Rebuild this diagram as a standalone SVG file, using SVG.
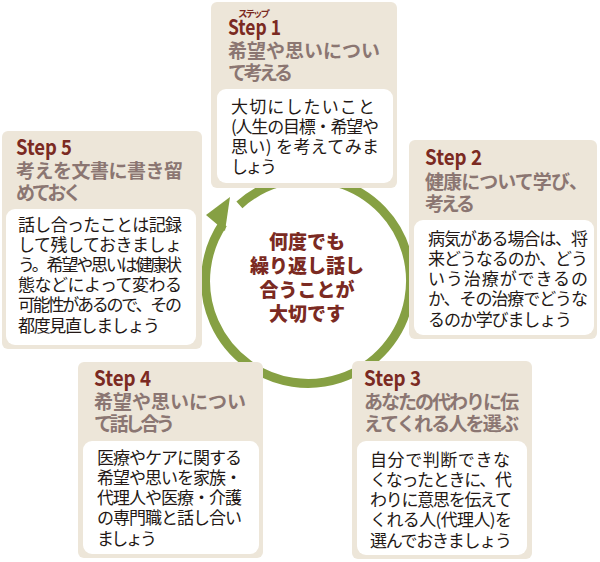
<svg xmlns="http://www.w3.org/2000/svg" width="600" height="562" viewBox="0 0 600 562">
<style>
.card{fill:#ede6d9}
.inner{fill:#ffffff}
.hd{font-family:"Noto Sans CJK JP","Noto Sans",sans-serif}
.step{font-weight:700;fill:#7b2a22;font-size:21px}
.ruby{font-weight:700;fill:#7b2a22;font-size:9.5px}
.title{font-weight:700;fill:#8b7672;font-size:19px}
.body{font-family:"Noto Sans CJK JP",sans-serif;font-weight:400;fill:#231815;font-size:17px}
.center{font-family:"Noto Sans CJK JP",sans-serif;font-weight:900;fill:#7b2a22;font-size:19px;text-anchor:middle}
.ring{fill:none;stroke:#86a043;stroke-width:9}
</style>
<rect width="600" height="562" fill="#ffffff"/>
<g id="connectors">
<path class="ring" d="M239.4,204.8 A102.5,102.5 0 1 1 223.0,223.7"/>
<polygon points="230,197 206,215 225,231" fill="#86a043"/>
</g>
<g id="center">
<text class="center"><tspan x="307" y="249">何度でも</tspan><tspan x="307" y="273">繰り返し話し</tspan><tspan x="307" y="297">合うことが</tspan><tspan x="307" y="321">大切です</tspan></text>
</g>
<g id="step1">
<rect class="card" x="211" y="2" width="186" height="186" rx="6"/>
<text class="hd"><tspan class="ruby" x="238" y="17" textLength="32" lengthAdjust="spacing">ステップ</tspan><tspan class="step" x="228" y="35" textLength="53" lengthAdjust="spacingAndGlyphs">Step 1</tspan><tspan class="title" x="228" y="58" textLength="152" lengthAdjust="spacing">希望や思いについ</tspan><tspan class="title" x="228" y="80" textLength="65" lengthAdjust="spacing">て考える</tspan></text>
<rect class="inner" x="217" y="89" width="176" height="94" rx="9"/>
<text class="body"><tspan x="231" y="113" textLength="144" lengthAdjust="spacing">大切にしたいこと</tspan><tspan x="231" y="133" textLength="148" lengthAdjust="spacing">(人生の目標・希望や</tspan><tspan x="231" y="153" textLength="148" lengthAdjust="spacing">思い) を考えてみま</tspan><tspan x="231" y="173" textLength="46" lengthAdjust="spacing">しょう</tspan></text>
</g>
<g id="step2">
<rect class="card" x="409" y="140" width="188" height="199" rx="6"/>
<text class="hd"><tspan class="step" x="425" y="165" textLength="57" lengthAdjust="spacingAndGlyphs">Step 2</tspan><tspan class="title" x="425" y="189" textLength="163" lengthAdjust="spacing">健康について学び、</tspan><tspan class="title" x="425" y="211" textLength="50" lengthAdjust="spacing">考える</tspan></text>
<rect class="inner" x="414" y="220" width="180" height="115" rx="9"/>
<text class="body"><tspan x="428" y="245" textLength="160" lengthAdjust="spacing">病気がある場合は、将</tspan><tspan x="428" y="265" textLength="160" lengthAdjust="spacing">来どうなるのか、どう</tspan><tspan x="428" y="285" textLength="160" lengthAdjust="spacing">いう治療ができるの</tspan><tspan x="428" y="305" textLength="160" lengthAdjust="spacing">か、その治療でどうな</tspan><tspan x="428" y="326" textLength="144" lengthAdjust="spacing">るのか学びましょう</tspan></text>
</g>
<g id="step3">
<rect class="card" x="352" y="361" width="180" height="198" rx="6"/>
<text class="hd"><tspan class="step" x="364" y="386" textLength="57" lengthAdjust="spacingAndGlyphs">Step 3</tspan><tspan class="title" x="364" y="409" textLength="155" lengthAdjust="spacing">あなたの代わりに伝</tspan><tspan class="title" x="364" y="431" textLength="155" lengthAdjust="spacing">えてくれる人を選ぶ</tspan></text>
<rect class="inner" x="357" y="441" width="170" height="114" rx="9"/>
<text class="body"><tspan x="370" y="466" textLength="140" lengthAdjust="spacing">自分で判断できな</tspan><tspan x="370" y="486" textLength="142" lengthAdjust="spacing">くなったときに、代</tspan><tspan x="370" y="506" textLength="142" lengthAdjust="spacing">わりに意思を伝えて</tspan><tspan x="370" y="526" textLength="142" lengthAdjust="spacing">くれる人(代理人)を</tspan><tspan x="370" y="547" textLength="142" lengthAdjust="spacing">選んでおきましょう</tspan></text>
</g>
<g id="step4">
<rect class="card" x="78" y="362" width="185" height="196" rx="6"/>
<text class="hd"><tspan class="step" x="94" y="386" textLength="57" lengthAdjust="spacingAndGlyphs">Step 4</tspan><tspan class="title" x="94" y="409" textLength="152" lengthAdjust="spacing">希望や思いについ</tspan><tspan class="title" x="94" y="431" textLength="81" lengthAdjust="spacing">て話し合う</tspan></text>
<rect class="inner" x="83" y="441" width="176" height="113" rx="9"/>
<text class="body"><tspan x="97" y="464" textLength="145" lengthAdjust="spacing">医療やケアに関する</tspan><tspan x="97" y="484" textLength="145" lengthAdjust="spacing">希望や思いを家族・</tspan><tspan x="97" y="504" textLength="145" lengthAdjust="spacing">代理人や医療・介護</tspan><tspan x="97" y="524" textLength="145" lengthAdjust="spacing">の専門職と話し合い</tspan><tspan x="97" y="545" textLength="60" lengthAdjust="spacing">ましょう</tspan></text>
</g>
<g id="step5">
<rect class="card" x="2" y="131" width="200" height="218" rx="6"/>
<text class="hd"><tspan class="step" x="16" y="155" textLength="56" lengthAdjust="spacingAndGlyphs">Step 5</tspan><tspan class="title" x="16" y="178" textLength="167" lengthAdjust="spacing">考えを文書に書き留</tspan><tspan class="title" x="16" y="200" textLength="66" lengthAdjust="spacing">めておく</tspan></text>
<rect class="inner" x="6" y="209" width="190" height="136" rx="9"/>
<text class="body"><tspan x="18" y="231" textLength="164" lengthAdjust="spacing">話し合ったことは記録</tspan><tspan x="18" y="251" textLength="164" lengthAdjust="spacing">して残しておきましょ</tspan><tspan x="18" y="271" textLength="164" lengthAdjust="spacing">う。希望や思いは健康状</tspan><tspan x="18" y="291" textLength="164" lengthAdjust="spacing">態などによって変わる</tspan><tspan x="18" y="311" textLength="164" lengthAdjust="spacing">可能性があるので、その</tspan><tspan x="18" y="332" textLength="142" lengthAdjust="spacing">都度見直しましょう</tspan></text>
</g>
</svg>
